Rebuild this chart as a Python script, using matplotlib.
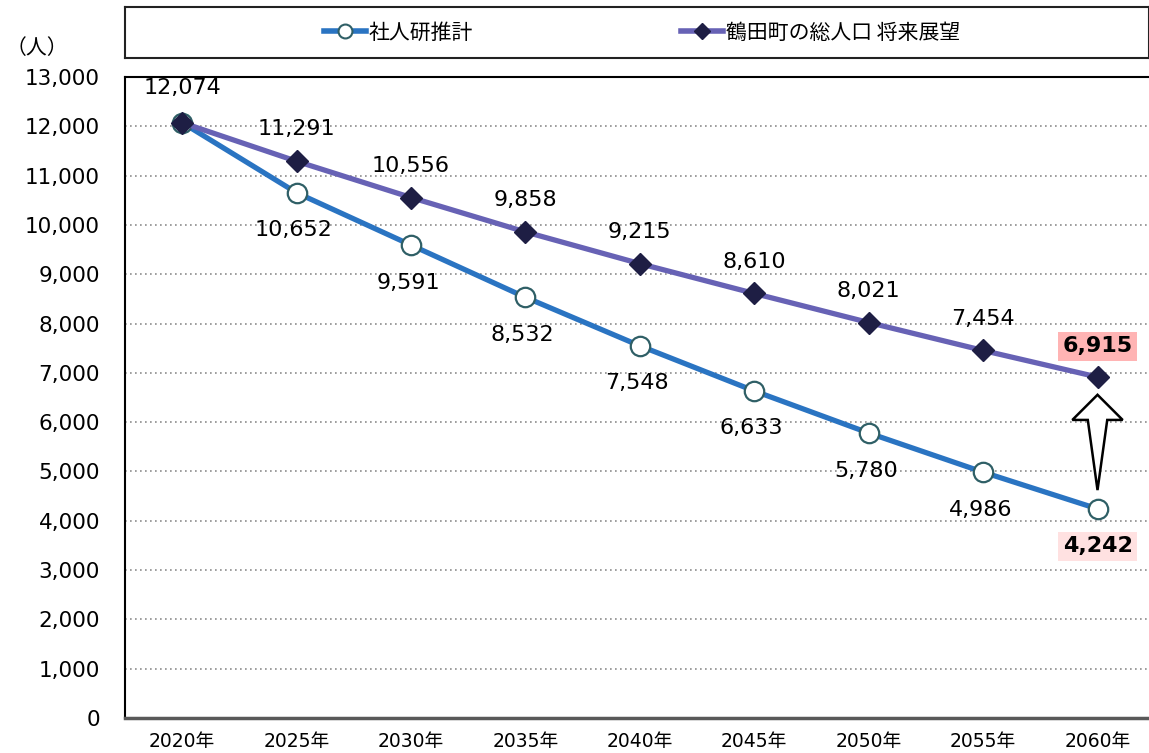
import numpy as np
import matplotlib
matplotlib.use("Agg")
from matplotlib import pyplot as plt
from matplotlib.patches import Polygon

plt.rcParams['font.family'] = ['DejaVu Sans', 'Noto Sans CJK JP']

years = ["2020年", "2025年", "2030年", "2035年", "2040年", "2045年", "2050年", "2055年", "2060年"]
ipss = [12074, 10652, 9591, 8532, 7548, 6633, 5780, 4986, 4242]
vision = [12074, 11291, 10556, 9858, 9215, 8610, 8021, 7454, 6915]
name_ipss = "社人研推計"
name_vision = "鶴田町の総人口 将来展望"

blue = "#2A74C2"
purple = "#6762B5"
cjk = ['Noto Sans CJK JP', 'DejaVu Sans']

fig = plt.figure(figsize=(11.49, 7.53), dpi=100)
ax = fig.add_axes([125/1149, 35/753, 1024/1149, 641/753])
x = np.arange(len(years))

ax.plot(x, ipss, color=blue, lw=3.8, marker='o', ms=14, mfc='white',
        mec='#2F5F66', mew=1.6, zorder=3)
ax.plot(x, vision, color=purple, lw=3.8, marker='D', ms=11, mfc='#1E1E44',
        mec='#1E1E44', zorder=4)

ax.set_xlim(-0.5, len(years) - 0.55)
ax.set_ylim(0, 13000)
ax.set_yticks(np.arange(0, 13001, 1000))
ax.set_yticklabels([f"{v:,}" for v in range(0, 13001, 1000)], fontsize=15.5)
ax.set_xticks(x)
ax.set_xticklabels(years, fontsize=13.5)
ax.tick_params(axis='y', length=0, pad=18)
ax.tick_params(axis='x', length=0, pad=10)
for v in range(1000, 13000, 1000):
    ax.axhline(v, color='#8C8C8C', lw=1.2, ls=(0, (1, 2)), zorder=1)
for s in ['left', 'top']:
    ax.spines[s].set_color('black')
    ax.spines[s].set_linewidth(1.5)
ax.spines['bottom'].set_color('#595959')
ax.spines['bottom'].set_linewidth(2.5)
ax.spines['right'].set_visible(False)

last = len(years) - 1
for i in range(len(years)):
    if i == 0:
        ax.annotate(f"{vision[i]:,}", (x[i], vision[i]), xytext=(0, 25), textcoords='offset points',
                    ha='center', va='center', fontsize=16)
        continue
    if i == last:
        ax.annotate(f"{vision[i]:,}", (x[i], vision[i]), xytext=(0, 22), textcoords='offset points',
                    ha='center', va='center', fontsize=16, fontweight='bold',
                    bbox=dict(boxstyle='square,pad=0.2', fc='#FFB4B4', ec='none'))
        ax.annotate(f"{ipss[i]:,}", (x[i], ipss[i]), xytext=(0, -27), textcoords='offset points',
                    ha='center', va='center', fontsize=16, fontweight='bold',
                    bbox=dict(boxstyle='square,pad=0.2', fc='#FFE1E1', ec='none'))
        continue
    ax.annotate(f"{vision[i]:,}", (x[i], vision[i]), xytext=(0, 23), textcoords='offset points',
                ha='center', va='center', fontsize=16)
    ax.annotate(f"{ipss[i]:,}", (x[i], ipss[i]), xytext=(-2, -27), textcoords='offset points',
                ha='center', va='center', fontsize=16)

# hollow arrow between the two 2060 values
xa = x[last]
tip = vision[last] - 360
base = vision[last] - 870
tail = ipss[last] + 380
arrow = Polygon([(xa, tip), (xa + 0.22, base), (xa + 0.085, base), (xa, tail),
                 (xa - 0.085, base), (xa - 0.22, base)], closed=True,
                fc='white', ec='black', lw=1.8, zorder=5)
ax.add_patch(arrow)

fig.text(6/1149, 1 - 48/753, "（人）", fontsize=15, ha='left', va='center', family=cjk)

lax = fig.add_axes([125/1149, 1 - 58/753, 1024/1149, 51/753])
lax.set_xticks([])
lax.set_yticks([])
for s in lax.spines.values():
    s.set_linewidth(1.5)
    s.set_color('#222222')
h1, = lax.plot([], [], color=blue, lw=4, marker='o', ms=10, mfc='white', mec='#2F5F66', mew=1.5)
h2, = lax.plot([], [], color=purple, lw=4, marker='D', ms=8, mfc='#1E1E44', mec='#1E1E44')
lax.legend([h1, h2], [name_ipss, name_vision], loc='center', ncol=2, frameon=False,
           prop=dict(family=cjk, size=15), handlelength=2.0, handletextpad=0.15,
           columnspacing=10, bbox_to_anchor=(0.505, 0.5))

fig.savefig("out.png", dpi=100)
